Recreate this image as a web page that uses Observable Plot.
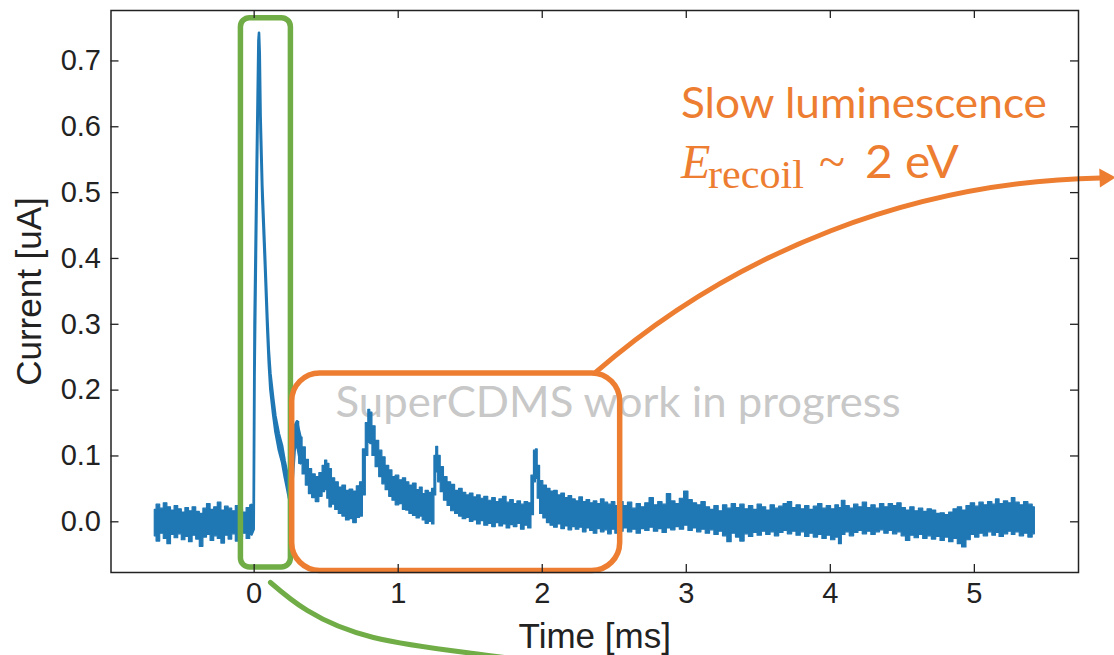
<!DOCTYPE html>
<html><head><meta charset="utf-8">
<script src="https://cdn.jsdelivr.net/npm/d3@7"></script>
<script src="https://cdn.jsdelivr.net/npm/@observablehq/plot@0.6"></script>
<style>html,body{margin:0;padding:0;background:#fff;} #chart svg{display:block}</style>
</head><body><div id="chart"></div>
<script>
// ---- Trace envelope: time [ms], lower / upper edge of the noisy current band [uA]
const timeBase = [-0.69,-0.665,-0.64,-0.615,-0.59,-0.565,-0.54,-0.515,-0.49,-0.465,-0.44,-0.415,-0.39,-0.365,-0.34,-0.315,-0.29,-0.265,-0.24,-0.215,-0.19,-0.165,-0.14,-0.115,-0.09,-0.065,-0.04,-0.015];
const upperBase = [0.018,0.026,0.020,0.028,0.022,0.017,0.024,0.019,0.014,0.021,0.016,0.022,0.015,0.012,0.020,0.027,0.018,0.022,0.029,0.017,0.023,0.020,0.016,0.024,0.019,0.014,0.021,0.025];
const lowerBase = [-0.022,-0.030,-0.018,-0.026,-0.034,-0.020,-0.025,-0.019,-0.028,-0.023,-0.031,-0.021,-0.027,-0.038,-0.024,-0.020,-0.029,-0.022,-0.026,-0.033,-0.021,-0.027,-0.019,-0.030,-0.024,-0.018,-0.026,-0.020];

const timePulse = [0.000,0.006,0.020,0.033,0.037,0.042,0.048,0.060,0.078,0.095,0.105,0.116,0.135,0.151,0.175,0.197,0.215,0.232,0.245,0.265,0.285,0.300];
const lowerPulse = [-0.012,0.22,0.48,0.70,0.725,0.68,0.59,0.49,0.39,0.29,0.24,0.200,0.163,0.136,0.108,0.090,0.068,0.050,0.035,0.045,0.11,0.118];
const upperPulse = [0.022,0.30,0.53,0.73,0.742,0.71,0.615,0.51,0.41,0.31,0.26,0.225,0.188,0.160,0.133,0.115,0.092,0.074,0.058,0.085,0.145,0.152];

const timeSlow = [
  0.325,0.347,0.370,0.390,0.415,0.440,0.465,0.485,0.500,0.515,
  0.530,0.550,0.575,0.600,0.625,0.650,0.675,0.700,0.725,0.745,
  0.765,0.785,0.800,0.812,0.830,0.856,0.880,0.900,0.925,0.950,
  0.970,0.995,1.020,1.045,1.065,1.090,1.115,1.140,1.160,1.180,
  1.200,1.225,1.245,1.258,1.270,1.285,1.305,1.330,1.355,1.380,
  1.410,1.435,1.460,1.485,1.510,1.535,1.560,1.585,1.610,1.640,
  1.665,1.690,1.715,1.740,1.765,1.790,1.815,1.840,1.865,1.890,
  1.915,1.935,1.950,1.962,1.975,1.995,2.020,2.045,2.070,2.095,
  2.120,2.145,2.170,2.195,2.220,2.245,2.270,2.295,2.320,2.345,
  2.370,2.395,2.420,2.445,2.470,2.495,2.520];
const lowerSlow = [
  0.088,0.072,0.055,0.042,0.036,0.030,0.038,0.045,0.048,0.035,
  0.022,0.026,0.018,0.012,0.008,0.002,0.004,-0.002,0.006,0.008,
  0.040,0.100,0.120,0.118,0.100,0.083,0.068,0.057,0.048,0.038,
  0.032,0.025,0.027,0.018,0.017,0.012,0.009,0.005,0.008,0.002,
  -0.003,0.000,-0.004,0.040,0.075,0.060,0.045,0.032,0.024,0.016,
  0.012,0.008,0.004,0.006,0.000,0.002,-0.004,0.001,-0.006,-0.003,
  -0.008,-0.002,-0.007,-0.004,-0.010,-0.005,-0.008,-0.003,-0.012,-0.006,
  -0.010,0.010,0.060,0.065,0.035,0.012,0.005,-0.002,-0.006,-0.009,
  -0.004,-0.011,-0.007,-0.013,-0.008,-0.012,-0.009,-0.016,-0.010,-0.014,
  -0.018,-0.011,-0.016,-0.013,-0.019,-0.012,-0.018];
const upperSlow = [
  0.128,0.113,0.094,0.080,0.072,0.068,0.074,0.085,0.093,0.088,
  0.080,0.066,0.060,0.052,0.055,0.047,0.049,0.046,0.054,0.060,
  0.110,0.150,0.170,0.166,0.145,0.123,0.108,0.098,0.085,0.078,
  0.068,0.070,0.063,0.066,0.060,0.055,0.058,0.048,0.052,0.042,
  0.047,0.044,0.050,0.100,0.114,0.100,0.083,0.068,0.060,0.056,
  0.047,0.050,0.044,0.040,0.043,0.037,0.040,0.035,0.038,0.032,
  0.036,0.030,0.034,0.038,0.029,0.033,0.027,0.031,0.026,0.030,
  0.028,0.070,0.108,0.110,0.085,0.062,0.055,0.050,0.046,0.047,
  0.040,0.043,0.036,0.039,0.034,0.031,0.037,0.030,0.033,0.028,
  0.031,0.027,0.034,0.029,0.026,0.030,0.024];

const timeTail = [
  2.55,2.58,2.61,2.64,2.67,2.70,2.73,2.76,2.79,2.82,
  2.85,2.88,2.91,2.94,2.97,3.00,3.03,3.06,3.09,3.12,
  3.15,3.18,3.21,3.24,3.27,3.30,3.33,3.36,3.39,3.42,
  3.45,3.48,3.51,3.54,3.57,3.60,3.63,3.66,3.69,3.72,
  3.75,3.78,3.81,3.84,3.87,3.90,3.93,3.96,3.99,4.02,
  4.05,4.07,4.09,4.12,4.15,4.18,4.21,4.24,4.27,4.30,
  4.33,4.36,4.39,4.42,4.45,4.48,4.51,4.54,4.57,4.60,
  4.63,4.66,4.69,4.72,4.75,4.78,4.81,4.84,4.87,4.90,
  4.93,4.96,4.99,5.02,5.05,5.08,5.11,5.14,5.16,5.19,
  5.22,5.25,5.27,5.30,5.33,5.36,5.39,5.42];
const lowerTail = [
  -0.015,-0.010,-0.016,-0.012,-0.018,-0.011,-0.014,-0.009,-0.015,-0.011,
  -0.017,-0.010,-0.013,-0.008,-0.012,-0.006,-0.014,-0.010,-0.016,-0.012,
  -0.018,-0.013,-0.020,-0.015,-0.022,-0.031,-0.018,-0.024,-0.030,-0.019,
  -0.023,-0.017,-0.021,-0.015,-0.020,-0.016,-0.022,-0.017,-0.014,-0.019,
  -0.015,-0.021,-0.016,-0.023,-0.018,-0.024,-0.020,-0.026,-0.021,-0.028,
  -0.024,-0.034,-0.020,-0.016,-0.022,-0.017,-0.014,-0.019,-0.015,-0.020,
  -0.016,-0.013,-0.018,-0.014,-0.019,-0.016,-0.022,-0.029,-0.021,-0.025,
  -0.020,-0.026,-0.022,-0.027,-0.023,-0.029,-0.024,-0.031,-0.026,-0.034,
  -0.039,-0.028,-0.020,-0.024,-0.018,-0.022,-0.016,-0.021,-0.017,-0.023,
  -0.019,-0.015,-0.020,-0.016,-0.022,-0.018,-0.024,-0.019];
const upperTail = [
  0.030,0.024,0.029,0.020,0.027,0.022,0.028,0.036,0.025,0.030,
  0.026,0.042,0.031,0.027,0.035,0.046,0.033,0.028,0.025,0.030,
  0.022,0.018,0.024,0.016,0.025,0.020,0.027,0.021,0.026,0.019,
  0.024,0.018,0.026,0.022,0.017,0.025,0.020,0.023,0.027,0.030,
  0.021,0.025,0.019,0.024,0.018,0.023,0.027,0.020,0.024,0.019,
  0.025,0.021,0.032,0.024,0.020,0.026,0.022,0.029,0.021,0.025,
  0.020,0.027,0.022,0.027,0.024,0.028,0.021,0.017,0.022,0.016,
  0.020,0.015,0.019,0.017,0.012,0.013,0.010,0.014,0.019,0.022,
  0.017,0.024,0.028,0.023,0.029,0.025,0.030,0.026,0.034,0.027,
  0.031,0.028,0.036,0.029,0.025,0.030,0.026,0.022];

// ---- Axis ticks
const xTicks = [0, 1, 2, 3, 4, 5];
const yTicks = [0.0, 0.1, 0.2, 0.3, 0.4, 0.5, 0.6, 0.7];

// ---- Annotation geometry (data units)
const greenBox = [{x1: -0.092, x2: 0.255, y1: -0.0694, y2: 0.765}];
const orangeBox = [{x1: 0.264, x2: 2.541, y1: -0.0747, y2: 0.2253}];
const orangeArrow = [{x1: 2.370, y1: 0.2268, x2: 5.876, y2: 0.5222}];
const arrowTip = [{t: 5.907, v: 0.5225}];
const greenCurveT = [0.113, 0.368, 0.828, 1.523, 1.988];
const greenCurveV = [-0.0922, -0.1347, -0.1757, -0.200, -0.2137];

const BLUE = "#1f77b4", GREEN = "#70ad47", ORANGE = "#ed7d31", INK = "#222";

const time = [...timeBase, ...timePulse, ...timeSlow, ...timeTail];
const lower = [...lowerBase, ...lowerPulse, ...lowerSlow, ...lowerTail];
const upper = [...upperBase, ...upperPulse, ...upperSlow, ...upperTail];
const trace = time.map((t, i) => ({t, lo: lower[i], hi: upper[i]}));
const traceBase = trace.filter(d => d.t < 0);
const tracePulse = trace.filter(d => d.t >= -0.02 && d.t <= 0.33);
const traceRest = trace.filter(d => d.t >= 0.3);
const greenCurve = greenCurveT.map((t, i) => ({t, v: greenCurveV[i]}));

const annoAnchor = [{t: 2.963}];
const sans = "Lato, 'Open Sans', sans-serif";
const serif = "'Liberation Serif', 'DejaVu Serif', serif";

const plot = Plot.plot({
  width: 1114,
  height: 655,
  marginLeft: 110.5,
  marginRight: 36,
  marginTop: 10,
  marginBottom: 83,
  x: {domain: [-0.994, 5.723]},
  y: {domain: [-0.077, 0.7766]},
  style: {fontFamily: "'Liberation Sans', Arial, sans-serif", fontSize: "29px", color: INK, background: "#fff", overflow: "visible"},
  marks: [
    Plot.text([{s: "SuperCDMS work in progress", t: 0.565, v: 0.1599}], {x: "t", y: "v", text: "s", textAnchor: "start", lineAnchor: "bottom", fontSize: 42, fontFamily: sans, fill: "#c8c8c8"}),
    Plot.areaY(traceBase, {x: "t", y1: "lo", y2: "hi", curve: "step", fill: BLUE, stroke: BLUE, strokeWidth: 1.2, strokeLinejoin: "round"}),
    Plot.areaY(traceRest, {x: "t", y1: "lo", y2: "hi", curve: "step", fill: BLUE, stroke: BLUE, strokeWidth: 1.2, strokeLinejoin: "round"}),
    Plot.areaY(tracePulse, {x: "t", y1: "lo", y2: "hi", fill: BLUE, stroke: BLUE, strokeWidth: 2.6, strokeLinejoin: "round"}),
    Plot.rect(greenBox, {x1: "x1", x2: "x2", y1: "y1", y2: "y2", rx: 9, ry: 9, fill: "none", stroke: GREEN, strokeWidth: 5.5}),
    Plot.rect(orangeBox, {x1: "x1", x2: "x2", y1: "y1", y2: "y2", rx: 28, ry: 28, fill: "none", stroke: ORANGE, strokeWidth: 5.5}),
    Plot.line(greenCurve, {x: "t", y: "v", curve: "natural", stroke: GREEN, strokeWidth: 5, strokeLinecap: "round"}),
    Plot.arrow(orangeArrow, {x1: "x1", y1: "y1", x2: "x2", y2: "y2", bend: 20, headLength: 0, stroke: ORANGE, strokeWidth: 5, strokeLinecap: "round"}),
    Plot.dot(arrowTip, {x: "t", y: "v", symbol: "triangle", r: 7, rotate: 88, fill: ORANGE, stroke: "none"}),
    Plot.frame({stroke: INK, strokeWidth: 1.5}),
    Plot.tickX(xTicks, {x: d => d, insetTop: 554, stroke: INK, strokeWidth: 1.3}),
    Plot.tickX(xTicks, {x: d => d, insetBottom: 554, stroke: INK, strokeWidth: 1.3}),
    Plot.tickY(yTicks, {y: d => d, insetRight: 959.5, stroke: INK, strokeWidth: 1.3}),
    Plot.tickY(yTicks, {y: d => d, insetLeft: 959.5, stroke: INK, strokeWidth: 1.3}),
    Plot.axisX(xTicks, {tickSize: 0, tickPadding: 10, fontSize: 29, label: null, tickFormat: d => String(d)}),
    Plot.axisY(yTicks, {tickSize: 0, tickPadding: 10, fontSize: 29, label: null, tickFormat: d3.format(".1f")}),
    Plot.text(["Time [ms]"], {frameAnchor: "bottom", dy: 75, lineAnchor: "bottom", fontSize: 35}),
    Plot.text(["Current [uA]"], {frameAnchor: "left", rotate: -90, dx: -70, textAnchor: "middle", lineAnchor: "bottom", fontSize: 35}),
    // annotation: Slow luminescence / E_recoil ~ 2 eV
    Plot.text(annoAnchor, {x: "t", y: () => 0.6126, text: () => "Slow luminescence", textAnchor: "start", lineAnchor: "bottom", fontSize: 43, fontFamily: sans, fill: ORANGE}),
    Plot.text(annoAnchor, {x: "t", y: () => 0.5222, text: () => "E", textAnchor: "start", lineAnchor: "bottom", fontSize: 48, fontFamily: serif, fontStyle: "italic", fill: ORANGE}),
    Plot.text(annoAnchor, {x: "t", y: () => 0.5222, text: () => "recoil", dx: 27, dy: 10.5, textAnchor: "start", lineAnchor: "bottom", fontSize: 41, fontFamily: serif, fill: ORANGE}),
    Plot.text(annoAnchor, {x: "t", y: () => 0.5222, text: () => "~", dx: 138, textAnchor: "start", lineAnchor: "bottom", fontSize: 48, fontFamily: serif, fill: ORANGE}),
    Plot.text(annoAnchor, {x: "t", y: () => 0.5222, text: () => "2 eV", dx: 184, textAnchor: "start", lineAnchor: "bottom", fontSize: 46, fontFamily: sans, fill: ORANGE})
  ]
});
const sel = d3.select(plot);
const fitLengths = new Map([
  ["SuperCDMS work in progress", 565],
  ["Slow luminescence", 366],
  ["recoil", 96],
  ["2 eV", 94]
]);
sel.selectAll("text").each(function() {
  const len = fitLengths.get(this.textContent);
  if (len) d3.select(this).attr("textLength", len).attr("lengthAdjust", "spacingAndGlyphs");
});
document.getElementById("chart").append(plot);
</script>
</body></html>
